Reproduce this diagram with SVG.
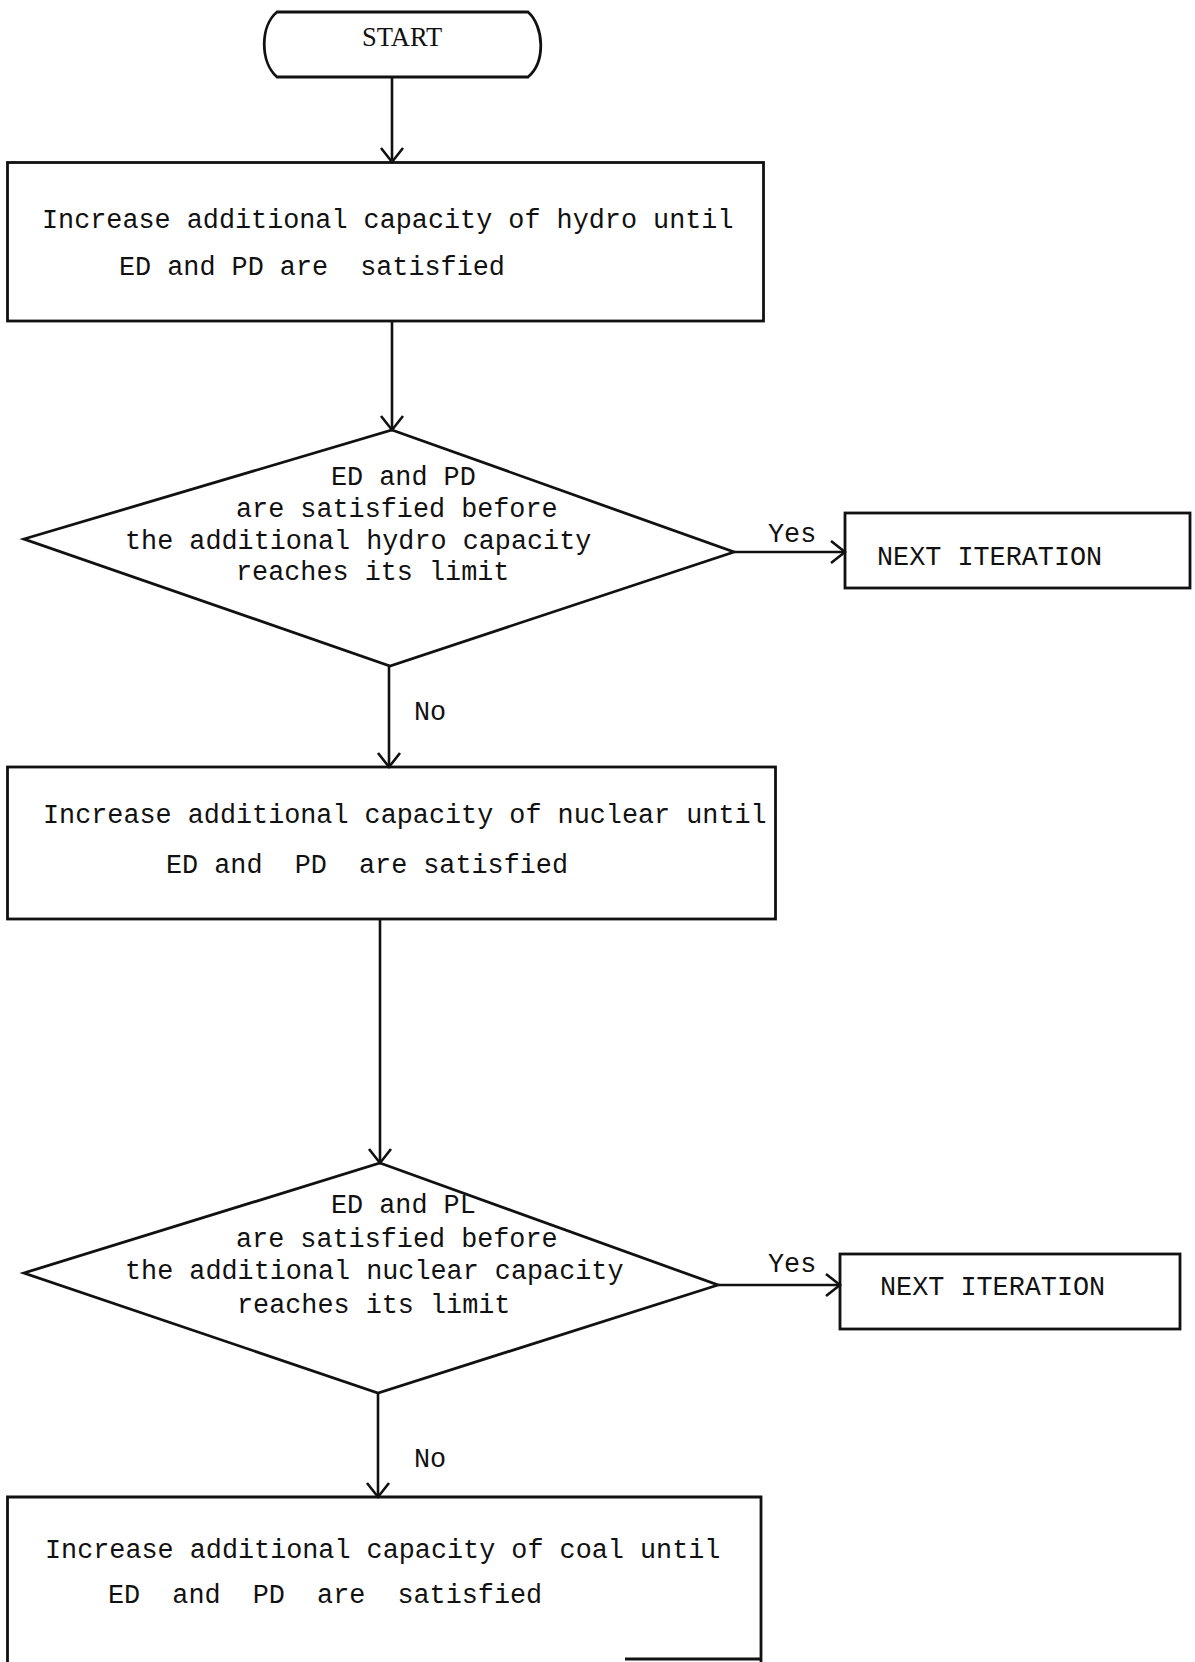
<svg xmlns="http://www.w3.org/2000/svg" width="1195" height="1662" viewBox="0 0 1195 1662" xml:space="preserve">
<style>
  .shape { fill: none; stroke: #111; stroke-width: 2.8; }
  .conn { fill: none; stroke: #111; stroke-width: 2.6; }
  text { font-family: "Liberation Mono", "DejaVu Sans Mono", monospace; font-size: 26.8px; fill: #111; white-space: pre; }
  .serif { font-family: "Liberation Serif", "DejaVu Serif", serif; font-size: 26.5px; }
</style>
<defs>
  <marker id="arr" markerUnits="userSpaceOnUse" markerWidth="24" markerHeight="28" refX="16" refY="14" orient="auto">
    <path d="M2 3 L16 14 L2 25" fill="none" stroke="#111" stroke-width="2.6"/>
  </marker>
</defs>
<rect width="1195" height="1662" fill="#fff"/>

<g id="start">
  <path class="shape" d="M277 12 L528 12 C544 26 546 62 528 77 L277 77 C260 62 260 26 277 12 Z"/>
  <text class="serif" x="362" y="46">START</text>
</g>

<g id="box-hydro">
  <rect class="shape" x="7.5" y="162.5" width="756" height="158.5"/>
  <text x="42" y="228">Increase additional capacity of hydro until</text>
  <text x="119" y="275">ED and PD are  satisfied</text>
</g>

<g id="decision-hydro">
  <polygon class="shape" points="392,430 734,552 390,666 24,539"/>
  <text x="331" y="485">ED and PD</text>
  <text x="236" y="517">are satisfied before</text>
  <text x="125" y="549">the additional hydro capacity</text>
  <text x="236" y="580">reaches its limit</text>
</g>

<g id="next-1">
  <rect class="shape" x="845" y="513" width="345" height="75"/>
  <text x="877" y="565">NEXT ITERATION</text>
</g>

<g id="box-nuclear">
  <rect class="shape" x="7.5" y="767" width="768" height="152"/>
  <text x="43" y="823">Increase additional capacity of nuclear until</text>
  <text x="166" y="873">ED and  PD  are satisfied</text>
</g>

<g id="decision-nuclear">
  <polygon class="shape" points="380,1163 718,1285 378,1393 24,1273"/>
  <text x="331" y="1213">ED and PL</text>
  <text x="236" y="1247">are satisfied before</text>
  <text x="125" y="1279">the additional nuclear capacity</text>
  <text x="237" y="1313">reaches its limit</text>
</g>

<g id="next-2">
  <rect class="shape" x="840" y="1254" width="340" height="75"/>
  <text x="880" y="1295">NEXT ITERATION</text>
</g>

<g id="box-coal">
  <path class="shape" d="M7.5 1662 L7.5 1497 L761 1497 L761 1662 M625 1659 L761 1659"/>
  <text x="45" y="1558">Increase additional capacity of coal until</text>
  <text x="108" y="1603">ED  and  PD  are  satisfied</text>
</g>

<g id="connectors">
  <line class="conn" x1="392" y1="78" x2="392" y2="162" marker-end="url(#arr)"/>
  <line class="conn" x1="392" y1="321" x2="392" y2="430" marker-end="url(#arr)"/>
  <line class="conn" x1="389" y1="666" x2="389" y2="767" marker-end="url(#arr)"/>
  <line class="conn" x1="734" y1="552" x2="845" y2="552" marker-end="url(#arr)"/>
  <line class="conn" x1="380" y1="919" x2="380" y2="1163" marker-end="url(#arr)"/>
  <line class="conn" x1="718" y1="1285" x2="840" y2="1285" marker-end="url(#arr)"/>
  <line class="conn" x1="378" y1="1393" x2="378" y2="1497" marker-end="url(#arr)"/>
  <text x="414" y="720">No</text>
  <text x="768" y="542">Yes</text>
  <text x="768" y="1272">Yes</text>
  <text x="414" y="1467">No</text>
</g>
</svg>
